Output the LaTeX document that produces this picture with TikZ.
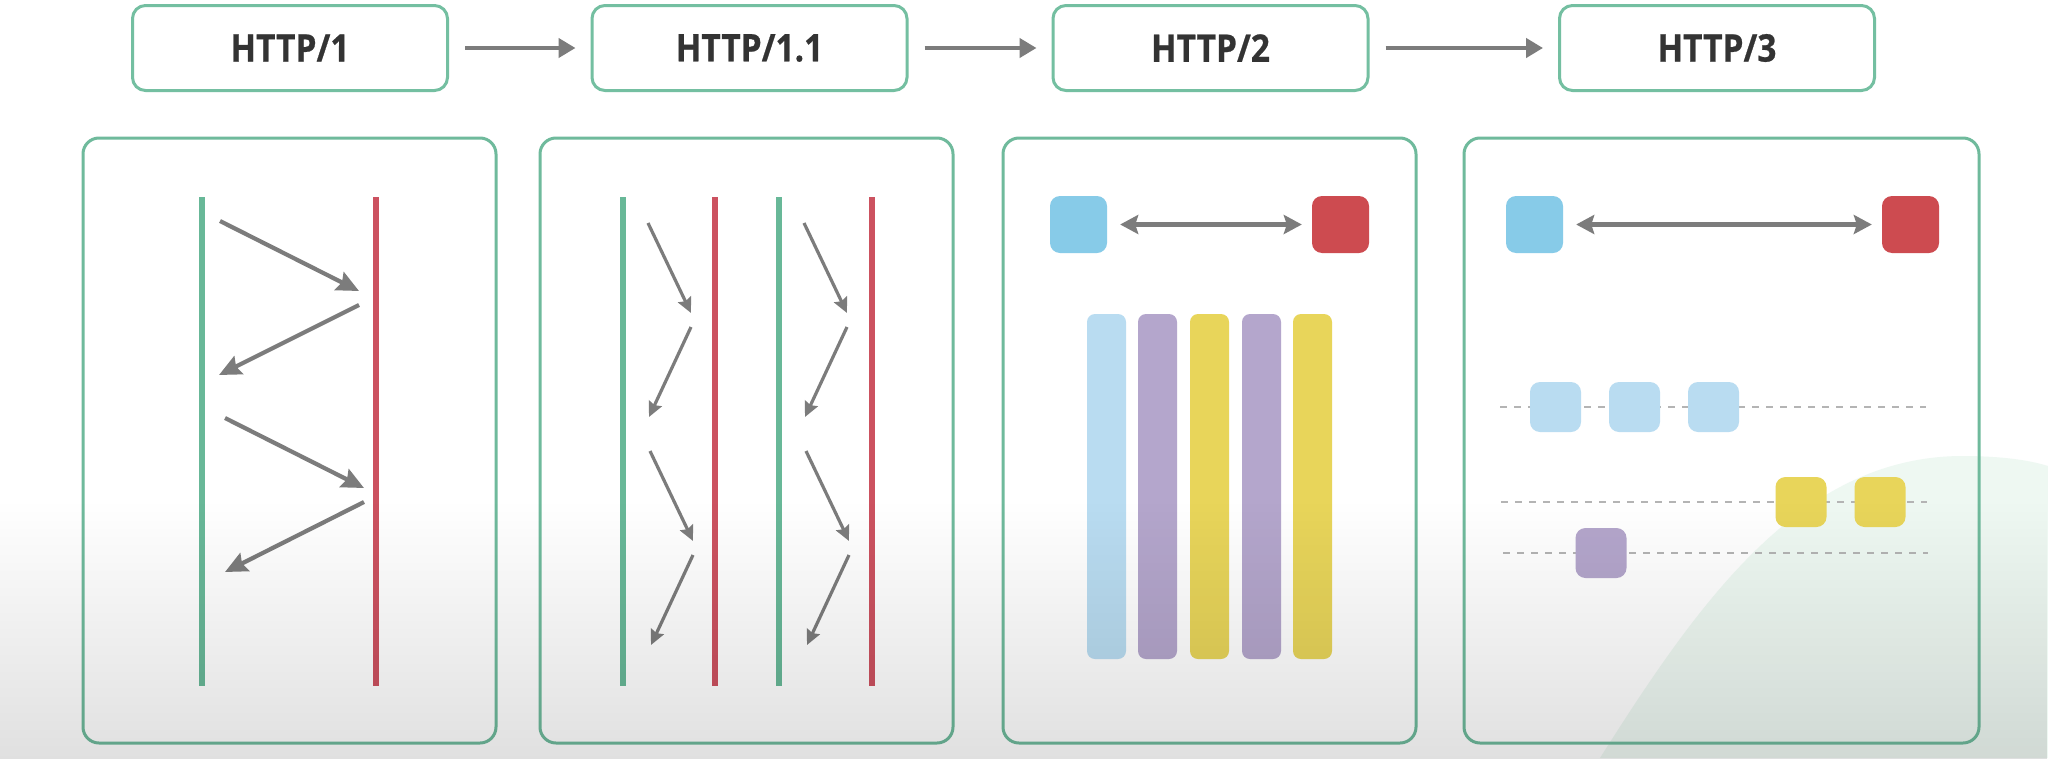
\documentclass[tikz,border=0pt]{standalone}
\usepackage{fontspec}
\setmainfont{Open Sans}[FakeStretch=0.88, BoldFeatures={FakeBold=0.6}]
\usetikzlibrary{arrows.meta,fadings}
\definecolor{boxgreen}{HTML}{74BFA1}
\definecolor{panelgreen}{HTML}{6FBA9C}
\definecolor{lifegreen}{HTML}{68B898}
\definecolor{lifered}{HTML}{CC5260}
\definecolor{arrowgray}{HTML}{7C7C7C}
\definecolor{textdark}{HTML}{333333}
\definecolor{sqblue}{HTML}{87CBE8}
\definecolor{sqred}{HTML}{CD4B50}
\definecolor{barblue}{HTML}{B9DCF1}
\definecolor{barpurple}{HTML}{B4A6CC}
\definecolor{baryellow}{HTML}{E8D55A}
\definecolor{dashgray}{HTML}{B4B4B4}
\definecolor{hillgreen}{RGB}{184,226,201}
\begin{document}
\begin{tikzpicture}[x=1pt,y=-1pt,
  verbox/.style={draw=boxgreen, line width=3pt, rounded corners=13pt, minimum width=315pt, minimum height=85pt, inner sep=0pt, font=\fontsize{38}{40}\selectfont\bfseries, text=textdark},
  panel/.style={draw=panelgreen, line width=3pt, rounded corners=16pt, minimum height=605pt, inner sep=0pt},
  flow/.style={draw=arrowgray, line width=4.5pt, -{Triangle[length=17pt,width=19pt]}},
  msg/.style={draw=arrowgray, line width=4.2pt, -{Stealth[length=22pt,width=20pt,inset=3pt]}},
  msgs/.style={draw=arrowgray, line width=3.2pt, -{Stealth[length=15pt,width=14pt,inset=2pt]}},
  conn/.style={draw=arrowgray, line width=4.5pt, {Stealth[length=18pt,width=19pt,inset=3pt]}-{Stealth[length=18pt,width=19pt,inset=3pt]}},
  lifeG/.style={draw=lifegreen, line width=6pt},
  lifeR/.style={draw=lifered, line width=6pt},
  sq/.style={rounded corners=10pt, minimum size=57pt, inner sep=0pt},
  bar/.style={rounded corners=8pt, minimum width=39pt, minimum height=345pt, inner sep=0pt},
  pkt/.style={rounded corners=10pt, minimum width=51pt, minimum height=50pt, inner sep=0pt},
  lane/.style={draw=dashgray, line width=1.6pt, dash pattern=on 7pt off 7pt}
]
\useasboundingbox (0,0) rectangle (2048,758);
% background
\fill[white] (0,0) rectangle (2048,758);
\fill[hillgreen, fill opacity=0.24] (1600,758) .. controls (1700,600) and (1800,458) .. (1960,456) .. controls (2010,456) and (2035,462) .. (2048,466) -- (2048,758) -- cycle;

% top row
\node[verbox] (h1)  at (290,48)    {HTTP/1};
\node[verbox] (h11) at (749.5,48)  {HTTP/1.1};
\node[verbox] (h2)  at (1210.5,48) {HTTP/2};
\node[verbox] (h3)  at (1717,48)   {HTTP/3};
\draw[flow] ([xshift=16pt]h1.east)  -- ([xshift=-15pt]h11.west);
\draw[flow] ([xshift=16pt]h11.east) -- ([xshift=-15pt]h2.west);
\draw[flow] ([xshift=16pt]h2.east)  -- ([xshift=-15pt]h3.west);

% panels
\node[panel, minimum width=413pt] (p1) at (289.5,440.5) {};
\node[panel, minimum width=413pt] (p2) at (746.5,440.5) {};
\node[panel, minimum width=413pt] (p3) at (1209.5,440.5) {};
\node[panel, minimum width=515pt] (p4) at (1721.5,440.5) {};

% panel 1: HTTP/1
\coordinate (c1t) at (202,197); \coordinate (c1b) at (202,686);
\coordinate (s1t) at (376,197); \coordinate (s1b) at (376,686);
\draw[lifeG] (c1t) -- (c1b);
\draw[lifeR] (s1t) -- (s1b);
\coordinate (a1) at (220,221); \coordinate (a2) at (359,291);
\coordinate (a3) at (359,305); \coordinate (a4) at (219,375);
\coordinate (a5) at (225,418); \coordinate (a6) at (364,488);
\coordinate (a7) at (364,502); \coordinate (a8) at (225,572);
\draw[msg] (a1) -- (a2);
\draw[msg] (a3) -- (a4);
\draw[msg] (a5) -- (a6);
\draw[msg] (a7) -- (a8);

% panel 2: HTTP/1.1
\foreach \x/\n in {623/ga, 779/gb} {
  \coordinate (\n t) at (\x,197); \coordinate (\n b) at (\x,686);
  \draw[lifeG] (\n t) -- (\n b);
}
\foreach \x/\n in {715/ra, 872/rb} {
  \coordinate (\n t) at (\x,197); \coordinate (\n b) at (\x,686);
  \draw[lifeR] (\n t) -- (\n b);
}
\foreach \dx/\n in {0/L, 156/R} {
  \coordinate (\n1) at (648+\dx,223); \coordinate (\n2) at (691+\dx,313);
  \coordinate (\n3) at (691+\dx,327); \coordinate (\n4) at (649+\dx,417);
  \coordinate (\n5) at (650+\dx,451); \coordinate (\n6) at (693+\dx,541);
  \coordinate (\n7) at (693+\dx,555); \coordinate (\n8) at (651+\dx,645);
  \draw[msgs] (\n1) -- (\n2);
  \draw[msgs] (\n3) -- (\n4);
  \draw[msgs] (\n5) -- (\n6);
  \draw[msgs] (\n7) -- (\n8);
}

% panel 3: HTTP/2
\node[sq, fill=sqblue] (b3) at (1078.5,224.5) {};
\node[sq, fill=sqred]  (r3) at (1340.5,224.5) {};
\draw[conn, shorten <=13pt, shorten >=10pt] (b3.east) -- (r3.west);
\node[bar, fill=barblue]   (s1) at (1106.5,486.5) {};
\node[bar, fill=barpurple] (s2) at (1157.5,486.5) {};
\node[bar, fill=baryellow] (s3) at (1209.5,486.5) {};
\node[bar, fill=barpurple] (s4) at (1261.5,486.5) {};
\node[bar, fill=baryellow] (s5) at (1312.5,486.5) {};

% panel 4: HTTP/3
\node[sq, fill=sqblue] (b4) at (1534.5,224.5) {};
\node[sq, fill=sqred]  (r4) at (1910.5,224.5) {};
\draw[conn, shorten <=13pt, shorten >=10pt] (b4.east) -- (r4.west);
\coordinate (l1a) at (1500,407); \coordinate (l1b) at (1926,407);
\coordinate (l2a) at (1501,502); \coordinate (l2b) at (1927,502);
\coordinate (l3a) at (1503,553); \coordinate (l3b) at (1928,553);
\draw[lane] (l1a) -- (l1b);
\draw[lane] (l2a) -- (l2b);
\draw[lane] (l3a) -- (l3b);
\node[pkt, fill=barblue] (q1) at (1555.5,407) {};
\node[pkt, fill=barblue] (q2) at (1634.5,407) {};
\node[pkt, fill=barblue] (q3) at (1713.5,407) {};
\node[pkt, fill=baryellow] (y1) at (1801,502) {};
\node[pkt, fill=baryellow] (y2) at (1880,502) {};
\node[pkt, fill=barpurple] (u1) at (1601,553) {};

% bottom vignette overlay
\fill[black, fill opacity=0.14, path fading=north] (0,500) rectangle (2048,800);
\end{tikzpicture}
\end{document}
